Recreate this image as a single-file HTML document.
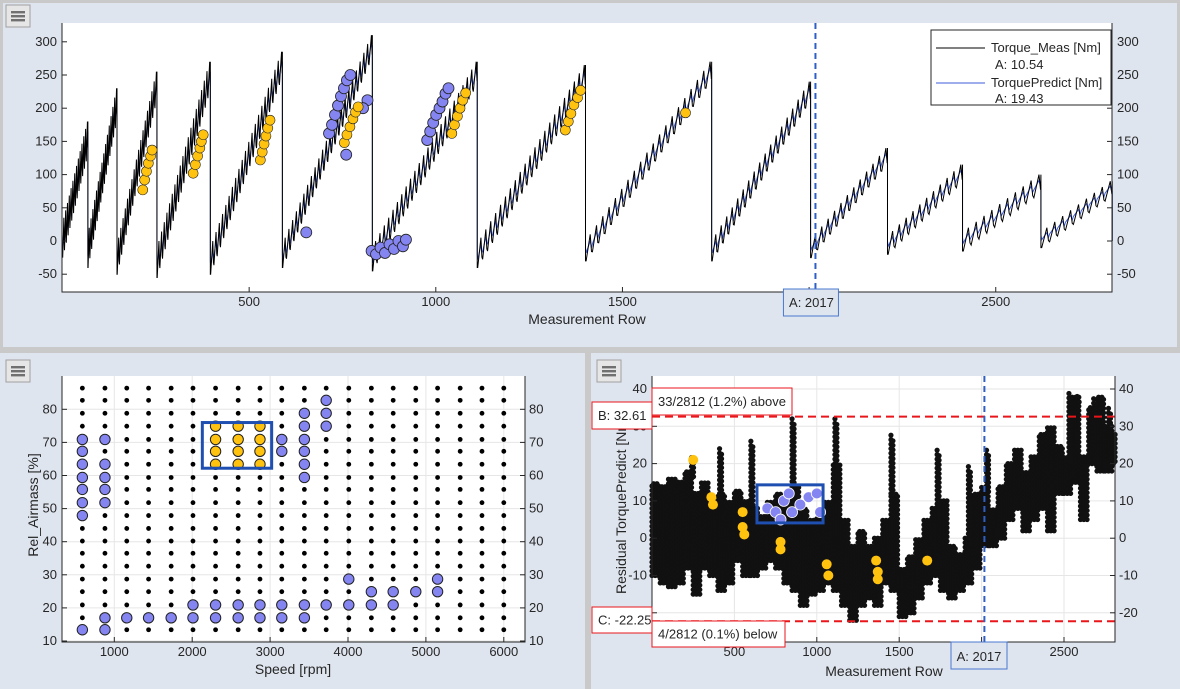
<!DOCTYPE html>
<html><head><meta charset="utf-8">
<style>
body{margin:0;background:#c9c9c9;width:1180px;height:689px;overflow:hidden;font-family:"Liberation Sans",sans-serif;}
svg{position:absolute;left:0;top:0}
text{font-family:"Liberation Sans",sans-serif;font-size:13px;fill:#262626}
</style></head>
<body>
<svg id="s" width="1180" height="689">
<rect x="3" y="3" width="1174" height="344" fill="#dfe5ef"/>
<rect x="0" y="353" width="585" height="336" fill="#dfe5ef"/>
<rect x="591" y="353" width="589" height="336" fill="#dfe5ef"/>
<g id="top"></g>
<g id="bl"></g>
<g id="br"></g>
</svg>
<script>
// ---------- top chart data ----------
const segStart=[0,68,146,253,396,589,830,1111,1401,1739,2004,2210,2411,2621];
const segEnd=[68,146,253,396,589,830,1111,1401,1739,2004,2210,2411,2621,2812];
const segLow=[-25,-40,-50,-55,-50,-40,-45,-40,-30,-30,-25,-20,-15,-10];
const segPeak=[180,230,255,270,285,310,270,265,270,240,140,115,100,90];
const segTeeth=[14,16,18,20,22,24,24,22,20,18,12,11,10,9];
const segAmp=[60,60,55,55,50,45,45,45,40,40,35,35,35,30];
const topYellowRows=[215,220,225,230,236,240,350,356,362,368,372,377,530,535,540,545,550,556,755,762,770,778,785,792,1043,1050,1058,1065,1072,1080,1347,1355,1362,1370,1380,1388,1669];
const topYellowVals=[77,92,105,117,128,137,102,115,128,140,150,160,122,134,146,158,170,182,148,160,172,184,194,202,162,175,188,200,212,223,167,180,192,205,216,227,193];
const topBlueRows=[653,714,722,730,738,746,754,762,771,760,817,805,828,840,852,864,876,888,900,912,920,977,985,993,1001,1010,1018,1026,1034];
const topBlueVals=[13,162,175,190,204,218,230,242,250,130,212,200,-15,-20,-10,-18,-5,-12,0,-8,2,152,165,178,190,200,210,222,230];
const topYTicks=[-50,0,50,100,150,200,250,300];
const topXTicks=[500,1000,1500,2000,2500];
const cursorRow=2017;
// ---------- bottom-left data ----------
const speeds=[590,880,1160,1440,1730,2010,2300,2590,2870,3150,3440,3720,4010,4300,4580,4870,5150,5440,5720,6000];
const airmass=[13.4,17,20.9,24.9,28.7,32.6,36.5,40.2,44,47.9,51.8,55.8,59.4,63.4,67.3,70.9,74.9,78.8,82.7,86.4];
const blueCols=[0,0,0,0,0,0,0,0,1,1,1,1,1,1,1,2,3,4,5,5,6,6,7,7,8,8,9,9,9,9,10,10,10,10,10,10,10,10,11,11,11,11,12,12,13,13,14,14,15,16,16];
const blueRowsIdx=[0,9,10,11,12,13,14,15,0,1,10,11,12,13,15,1,1,1,1,2,1,2,1,2,1,2,1,2,14,15,1,2,12,13,14,15,16,17,2,16,17,18,2,4,2,3,2,3,3,3,4];
const yelCols=[6,6,6,6,7,7,7,7,8,8,8,8];
const yelRowsIdx=[13,14,15,16,13,14,15,16,13,14,15,16];
const blXTicks=[1000,2000,3000,4000,5000,6000];
const blYTicks=[10,20,30,40,50,60,70,80];
// ---------- bottom-right data ----------
const bucketStart=[0,50,100,150,200,250,300,350,400,450,500,550,600,650,700,750,800,850,900,950,1000,1050,1100,1150,1200,1250,1300,1350,1400,1450,1500,1550,1600,1650,1700,1750,1800,1850,1900,1950,2000,2050,2100,2150,2200,2250,2300,2350,2400,2450,2500,2550,2600,2650,2700,2750,2800];
const bucketLo=[-10,-12,-13,-12,-8,-15,-8,-10,-14,-12,-6,-10,-10,-8,-6,-8,-12,-14,-18,-15,-14,-12,-14,-18,-22,-18,-16,-18,-12,-14,-21,-20,-16,-12,-10,-14,-16,-14,-12,-8,-2,-2,0,5,8,2,5,8,2,12,12,15,5,20,18,18,20];
const bucketHi=[15,14,16,15,18,12,15,10,12,10,13,10,8,6,10,12,10,14,8,5,6,10,20,5,-2,2,-2,0,5,12,-8,-5,0,5,8,10,-2,-4,0,12,14,8,14,20,24,18,22,28,30,25,22,38,22,35,38,30,28];
const spikeRow=[150,240,410,600,850,1110,1450,1730,1920,2030,2530,2580,2680,2770];
const spikeTop=[16,22,24,26,32,32,28,24,20,24,40,38,38,36];
const resYelRows=[250,360,370,550,550,560,780,780,1060,1070,1370,1370,1360,1670];
const resYelVals=[21,11,9,7,3,1,-1,-3,-7,-10,-9,-11,-6,-6];
const resBlueRows=[700,750,780,800,830,850,900,950,1000,1020];
const resBlueVals=[8,7,5,10,12,7,9,11,12,7];
const brYTicks=[-20,-10,0,10,20,30,40];
const brXTicks=[500,1000,1500,2000,2500];
const upperLimit=32.61, lowerLimit=-22.25;

const NS='http://www.w3.org/2000/svg';
function mk(p,tag,at,txt){const e=document.createElementNS(NS,tag);for(const k in at)e.setAttribute(k,at[k]);if(txt!==undefined)e.textContent=txt;p.appendChild(e);return e;}
function menu(p,x,y){const g=mk(p,'g',{});


mk(g,'rect',{x:x,y:y,width:24,height:22,fill:'#e6e6e6',stroke:'#a0a0a0'});
for(let i=0;i<3;i++)mk(g,'rect',{x:x+5,y:y+6+i*4,width:14,height:2.4,fill:'#707070'});}

// ================= TOP =================
(function(){
const g=document.getElementById('top');
const X=r=>62.5+r*0.3733, Y=v=>241-v*0.664;
menu(g,6,5);
mk(g,'rect',{x:62,y:23,width:1050,height:269,fill:'#fff'});
let dB='',dP='';
for(let s=0;s<segStart.length;s++){
 const n=segTeeth[s],a=segAmp[s],w=(segEnd[s]-segStart[s])/n;
 const lo=segLow[s],top=segPeak[s];
 for(let k=0;k<n;k++){
  const f=k/(n-1||1);
  const base=lo+(top-a-lo)*f;
  const r0=segStart[s]+k*w;
  dB+=(s==0&&k==0?'M':'L')+X(r0+w*0.1)+' '+Y(base)+' L'+X(r0+w*0.75)+' '+Y(base+a)+' L'+X(r0+w*0.95)+' '+Y(base+a*0.35)+' ';
  dP+=(s==0&&k==0?'M':'L')+X(r0+w*0.1)+' '+Y(base+12)+' L'+X(r0+w*0.75)+' '+Y(base+a*0.75)+' L'+X(r0+w*0.95)+' '+Y(base+a*0.5)+' ';
 }
 dB+='L'+X(segEnd[s])+' '+Y(top)+' L'+X(segEnd[s])+' '+Y(segLow[s+1]!==undefined?segLow[s+1]:0)+' ';
 dP+='L'+X(segEnd[s])+' '+Y(top-15)+' L'+X(segEnd[s])+' '+Y(segLow[s+1]!==undefined?segLow[s+1]+20:0)+' ';
}
const lp=mk(g,'path',{d:dP,fill:'none',stroke:'#3b5bdb','stroke-width':1});


const lm=mk(g,'path',{d:dB,fill:'none',stroke:'#000','stroke-width':1});


topBlueRows.forEach((r,i)=>{const c=mk(g,'circle',{cx:X(r),cy:Y(topBlueVals[i]),r:5.5,fill:'#8585f2',stroke:'#222','stroke-width':0.8});

});
topYellowRows.forEach((r,i)=>{const c=mk(g,'circle',{cx:X(r),cy:Y(topYellowVals[i]),r:5,fill:'#ffc20e',stroke:'#222','stroke-width':0.6});

});
mk(g,'path',{d:'M62 23 V292 H1112 V23',fill:'none',stroke:'#262626','stroke-width':1});
topYTicks.forEach(v=>{mk(g,'line',{x1:62,x2:67,y1:Y(v),y2:Y(v),stroke:'#262626'});mk(g,'line',{x1:1107,x2:1112,y1:Y(v),y2:Y(v),stroke:'#262626'});
const t=mk(g,'text',{x:57,y:Y(v)+4,'text-anchor':'end'},v);


const t2=mk(g,'text',{x:1117,y:Y(v)+4},v);

});
topXTicks.forEach(v=>{mk(g,'line',{x1:X(v),x2:X(v),y1:292,y2:287,stroke:'#262626'});
const t=mk(g,'text',{x:X(v),y:306,'text-anchor':'middle'},v);

});
const xl=mk(g,'text',{x:587,y:324,'text-anchor':'middle',style:'font-size:14px'},'Measurement Row');


mk(g,'line',{x1:X(cursorRow),x2:X(cursorRow),y1:23,y2:292,stroke:'#2f5fc4','stroke-width':2,'stroke-dasharray':'6 4'});
mk(g,'rect',{x:X(cursorRow)-32,y:289,width:55,height:27,fill:'#dfe5ef',stroke:'#4a78d0'});
const cl=mk(g,'text',{x:X(cursorRow)-4,y:307,'text-anchor':'middle'},'A: '+cursorRow);


const lg=mk(g,'g',{});


mk(lg,'rect',{x:931,y:30,width:180,height:75,fill:'#fff',stroke:'#262626'});
mk(lg,'line',{x1:936,x2:985,y1:48,y2:48,stroke:'#000'});
mk(lg,'text',{x:991,y:52},'Torque_Meas [Nm]');
mk(lg,'text',{x:995,y:69},'A: 10.54');
mk(lg,'line',{x1:936,x2:985,y1:83,y2:83,stroke:'#3b5bdb'});
mk(lg,'text',{x:991,y:87},'TorquePredict [Nm]');
mk(lg,'text',{x:995,y:103},'A: 19.43');
})();

// ================= BOTTOM LEFT =================
(function(){
const g=document.getElementById('bl');
const X=s=>114.3+(s-1000)*0.0779, Y=a=>641-(a-10)*3.31;
menu(g,6,360);
mk(g,'rect',{x:62,y:376,width:463,height:266,fill:'#fff'});
blXTicks.forEach(v=>mk(g,'line',{x1:X(v),x2:X(v),y1:376,y2:642,stroke:'#e6e6e6'}));
blYTicks.forEach(v=>mk(g,'line',{x1:62,x2:525,y1:Y(v),y2:Y(v),stroke:'#e6e6e6'}));
speeds.forEach(s=>airmass.forEach(a=>{const c=mk(g,'circle',{cx:X(s),cy:Y(a),r:2.4,fill:'#000'});

}));
blueCols.forEach((ci,i)=>{const c=mk(g,'circle',{cx:X(speeds[ci]),cy:Y(airmass[blueRowsIdx[i]]),r:5.2,fill:'#8585f2',stroke:'#222','stroke-width':1});

});
yelCols.forEach((ci,i)=>{const c=mk(g,'circle',{cx:X(speeds[ci]),cy:Y(airmass[yelRowsIdx[i]]),r:5.2,fill:'#ffc20e',stroke:'#222','stroke-width':1});

});
const bx=mk(g,'rect',{x:X(2130),y:Y(76),width:X(3020)-X(2130),height:Y(62.2)-Y(76),fill:'none',stroke:'#1f4fb0','stroke-width':3});


mk(g,'path',{d:'M62 376 V642 H525 V376',fill:'none',stroke:'#262626'});
blYTicks.forEach(v=>{mk(g,'line',{x1:62,x2:67,y1:Y(v),y2:Y(v),stroke:'#262626'});mk(g,'line',{x1:520,x2:525,y1:Y(v),y2:Y(v),stroke:'#262626'});
const t=mk(g,'text',{x:57,y:Y(v)+4,'text-anchor':'end'},v);


const t2=mk(g,'text',{x:529,y:Y(v)+4},v);

});
blXTicks.forEach(v=>{mk(g,'line',{x1:X(v),x2:X(v),y1:642,y2:637,stroke:'#262626'});
const t=mk(g,'text',{x:X(v),y:656,'text-anchor':'middle'},v);

});
const xl=mk(g,'text',{x:293,y:674,'text-anchor':'middle',style:'font-size:14px'},'Speed [rpm]');


const yl=mk(g,'text',{x:0,y:0,'text-anchor':'middle',transform:'translate(38,505) rotate(-90)',style:'font-size:14px'},'Rel_Airmass [%]');


})();

// ================= BOTTOM RIGHT =================
(function(){
const g=document.getElementById('br');
const X=r=>652+r*0.1648, Y=v=>538.2-v*3.73;
menu(g,597,360);
mk(g,'rect',{x:652,y:376,width:463,height:266,fill:'#fff'});
brXTicks.forEach(v=>mk(g,'line',{x1:X(v),x2:X(v),y1:376,y2:642,stroke:'#e6e6e6'}));
brYTicks.forEach(v=>mk(g,'line',{x1:652,x2:1115,y1:Y(v),y2:Y(v),stroke:'#e6e6e6'}));
const pts=mk(g,'g',{});


bucketStart.forEach((b,i)=>{
 const end=Math.min(b+50,2812);
 let c=0;
 for(let r=b;r<end;r+=10,c++){
  const off=(c%2)*0.6;
  for(let v=bucketLo[i]+off;v<=bucketHi[i];v+=1.2)mk(pts,'circle',{cx:X(r),cy:Y(v),r:2.6,fill:'#111'});
 }
});
spikeRow.forEach((r,i)=>{
 const bi=Math.min(Math.floor(r/50),bucketHi.length-1);
 for(let v=bucketHi[bi];v<=spikeTop[i];v+=1.2){mk(pts,'circle',{cx:X(r),cy:Y(v),r:2.6,fill:'#111'});mk(pts,'circle',{cx:X(r+12),cy:Y(v-1.5),r:2.6,fill:'#111'});}
});
resYelRows.forEach((r,i)=>{const c=mk(g,'circle',{cx:X(r),cy:Y(resYelVals[i]),r:5,fill:'#ffc20e'});

});
resBlueRows.forEach((r,i)=>{const c=mk(g,'circle',{cx:X(r),cy:Y(resBlueVals[i]),r:5.5,fill:'#8585f2',stroke:'#fff','stroke-width':0.8});

});
const bx=mk(g,'rect',{x:X(637),y:Y(14.3),width:X(1038)-X(637),height:Y(4.1)-Y(14.3),fill:'none',stroke:'#1f4fb0','stroke-width':3});


mk(g,'line',{x1:652,x2:1115,y1:Y(upperLimit),y2:Y(upperLimit),stroke:'#e8161b','stroke-width':2,'stroke-dasharray':'8 5'});
mk(g,'line',{x1:652,x2:1115,y1:Y(lowerLimit),y2:Y(lowerLimit),stroke:'#e8161b','stroke-width':2,'stroke-dasharray':'8 5'});
mk(g,'line',{x1:X(cursorRow),x2:X(cursorRow),y1:376,y2:642,stroke:'#2f5fc4','stroke-width':2,'stroke-dasharray':'6 4'});
mk(g,'path',{d:'M652 376 V642 H1115 V376',fill:'none',stroke:'#262626'});
brYTicks.forEach(v=>{mk(g,'line',{x1:652,x2:657,y1:Y(v),y2:Y(v),stroke:'#262626'});mk(g,'line',{x1:1110,x2:1115,y1:Y(v),y2:Y(v),stroke:'#262626'});
const t=mk(g,'text',{x:647,y:Y(v)+4,'text-anchor':'end'},v);


const t2=mk(g,'text',{x:1119,y:Y(v)+4},v);

});
brXTicks.forEach(v=>{mk(g,'line',{x1:X(v),x2:X(v),y1:642,y2:637,stroke:'#262626'});
const t=mk(g,'text',{x:X(v),y:656,'text-anchor':'middle'},v);

});
const yl=mk(g,'text',{x:0,y:0,'text-anchor':'middle',transform:'translate(626,505) rotate(-90)',style:'font-size:14px'},'Residual TorquePredict [Nm]');


const xl=mk(g,'text',{x:884,y:676,'text-anchor':'middle',style:'font-size:14px'},'Measurement Row');


function box(x,y,w,h,txt,name){const gg=mk(g,'g',{});


mk(gg,'rect',{x:x,y:y,width:w,height:h,fill:'#fff',stroke:'#e8161b'});mk(gg,'text',{x:x+6,y:y+h/2+4.5},txt);}
box(652,388,140,27,'33/2812 (1.2%) above','upper-count-label');
box(592,402,60,27,'B: '+upperLimit,'upper-limit-label');
box(592,607,60,26,'C: '+lowerLimit,'lower-limit-label');
box(652,621,133,26,'4/2812 (0.1%) below','lower-count-label');
mk(g,'rect',{x:951,y:642,width:56,height:27,fill:'#dfe5ef',stroke:'#4a78d0'});
const cl=mk(g,'text',{x:979,y:661,'text-anchor':'middle'},'A: '+cursorRow);


})();
</script>
</body></html>
